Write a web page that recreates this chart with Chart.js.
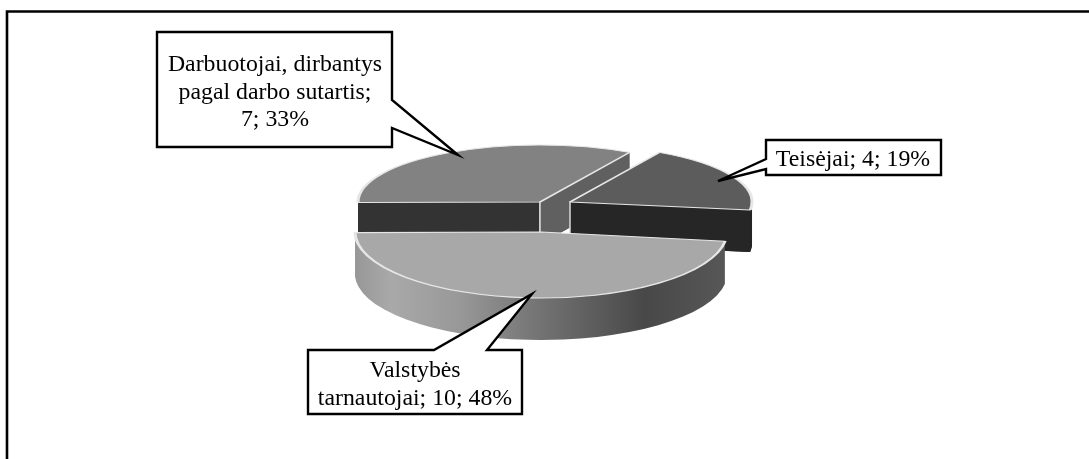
<!DOCTYPE html>
<html>
<head>
<meta charset="utf-8">
<style>
  html, body { margin: 0; padding: 0; background: #fff; }
  canvas { display: block; }
</style>
<script src="https://cdn.jsdelivr.net/npm/chart.js@4"></script>
</head>
<body>
<canvas id="pie" width="1089" height="459"></canvas>
<script>
const categories = ['Teisėjai', 'Valstybės tarnautojai', 'Darbuotojai, dirbantys pagal darbo sutartis'];
const values = [4, 10, 7];
const percents = [19, 48, 33];
const calloutLines = [
  [`${categories[0]}; ${values[0]}; ${percents[0]}%`],
  ['Valstybės', `tarnautojai; ${values[1]}; ${percents[1]}%`],
  ['Darbuotojai, dirbantys', 'pagal darbo sutartis;', `${values[2]}; ${percents[2]}%`],
];
const faceColors = ['#5c5c5c', '#a8a8a8', '#828282'];

// the perspective look: every exploded slice has its own centre and squash
const sliceLook = [
  { cx: 570, cy: 202, rx: 182, ry: 57, rim: '#262626', cuts: [null, '#262626'] },
  { cx: 541, cy: 232, rx: 186, ry: 66, rim: null, cuts: [null, null] },
  { cx: 540, cy: 202, rx: 182, ry: 57, rim: '#333333', cuts: ['#333333', '#606060'] },
];
const DEPTH = 42;
const drawOrder = [2, 0, 1];

const callouts = [
  { box: [766, 140, 941, 175], tip: [718, 181], notch: [[766, 169], [766, 159]], cx: 853, base: 166 },
  { box: [308, 350, 522, 414], tip: [532, 294], notch: [[434, 350], [487, 350]], cx: 415, base: 377 },
  { box: [157, 32, 392, 147], tip: [458, 155], notch: [[392, 128], [392, 100]], cx: 275, base: 71 },
];

function rimGradient(ctx) {
  const g = ctx.createLinearGradient(355, 0, 727, 0);
  g.addColorStop(0, '#929292');
  g.addColorStop(0.12, '#a9a9a9');
  g.addColorStop(0.3, '#989898');
  g.addColorStop(0.5, '#747474');
  g.addColorStop(0.78, '#484848');
  g.addColorStop(1, '#585858');
  return g;
}

// draws the library's own arc with other fill/stroke
function drawArc(ctx, arc, look, dy, fill, stroke, lineWidth) {
  const copy = Object.create(arc);
  copy.options = { ...arc.options, backgroundColor: fill, borderColor: stroke || fill, borderWidth: lineWidth || 0 };
  ctx.save();
  ctx.translate(look.cx, look.cy + dy);
  ctx.scale(look.rx / arc.outerRadius, look.ry / arc.outerRadius);
  ctx.translate(-arc.x, -arc.y);
  copy.draw(ctx);
  ctx.restore();
}

function cutFace(ctx, arc, look, angle, color) {
  const px = look.cx + Math.cos(angle) * look.rx;
  const py = look.cy + Math.sin(angle) * look.ry;
  ctx.beginPath();
  ctx.moveTo(look.cx, look.cy);
  ctx.lineTo(px, py);
  ctx.lineTo(px, py + DEPTH);
  ctx.lineTo(look.cx, look.cy + DEPTH);
  ctx.closePath();
  ctx.fillStyle = color;
  ctx.fill();
  // only the inner edge is lit
  ctx.beginPath();
  ctx.moveTo(look.cx, look.cy);
  ctx.lineTo(look.cx, look.cy + DEPTH);
  ctx.strokeStyle = '#d8d8d8';
  ctx.lineWidth = 1.5;
  ctx.stroke();
}

const pie3d = {
  id: 'pie3d',
  beforeDatasetsDraw(chart) {
    const ctx = chart.ctx;
    const arcs = chart.getDatasetMeta(0).data;
    drawOrder.forEach(i => {
      const arc = arcs[i];
      const look = sliceLook[i];
      const rim = look.rim || rimGradient(ctx);
      for (let dy = DEPTH; dy > 0; dy--) {
        drawArc(ctx, arc, look, dy, rim);
      }
      [arc.startAngle, arc.endAngle].forEach((a, k) => {
        if (look.cuts[k]) cutFace(ctx, arc, look, a, look.cuts[k]);
      });
      drawArc(ctx, arc, look, 0, faceColors[i], '#e6e6e6', 3);
    });
    return false;
  },
  afterDraw(chart) {
    const ctx = chart.ctx;
    // frame: only the top and left lines fall inside the picture
    ctx.strokeStyle = '#000';
    ctx.lineWidth = 2.6;
    ctx.beginPath();
    ctx.moveTo(7, 459);
    ctx.lineTo(7, 11.5);
    ctx.lineTo(1089, 11.5);
    ctx.stroke();
    callouts.forEach((c, i) => {
      const [l, t, r, b] = c.box;
      const [n1, n2] = c.notch;
      ctx.beginPath();
      ctx.moveTo(l, t);
      if (n1[1] === t) { ctx.lineTo(n1[0], n1[1]); ctx.lineTo(c.tip[0], c.tip[1]); ctx.lineTo(n2[0], n2[1]); }
      ctx.lineTo(r, t);
      if (n1[0] === r) { ctx.lineTo(n2[0], n2[1]); ctx.lineTo(c.tip[0], c.tip[1]); ctx.lineTo(n1[0], n1[1]); }
      ctx.lineTo(r, b);
      ctx.lineTo(l, b);
      if (n1[0] === l) { ctx.lineTo(n1[0], n1[1]); ctx.lineTo(c.tip[0], c.tip[1]); ctx.lineTo(n2[0], n2[1]); }
      ctx.closePath();
      ctx.fillStyle = '#fff';
      ctx.fill();
      ctx.lineWidth = 2.4;
      ctx.lineJoin = 'miter';
      ctx.strokeStyle = '#000';
      ctx.stroke();
      ctx.fillStyle = '#000';
      ctx.font = '23.8px "Liberation Serif"';
      ctx.textAlign = 'center';
      ctx.textBaseline = 'alphabetic';
      calloutLines[i].forEach((line, k) => ctx.fillText(line, c.cx, c.base + k * 27.7));
    });
  },
};

new Chart(document.getElementById('pie').getContext('2d'), {
  type: 'pie',
  data: {
    labels: categories,
    datasets: [{ data: values, backgroundColor: faceColors, borderWidth: 0 }],
  },
  options: {
    responsive: false,
    animation: false,
    rotation: 29.5,
    radius: 180,
    plugins: { legend: { display: false }, tooltip: { enabled: false } },
  },
  plugins: [pie3d],
});
</script>
</body>
</html>
